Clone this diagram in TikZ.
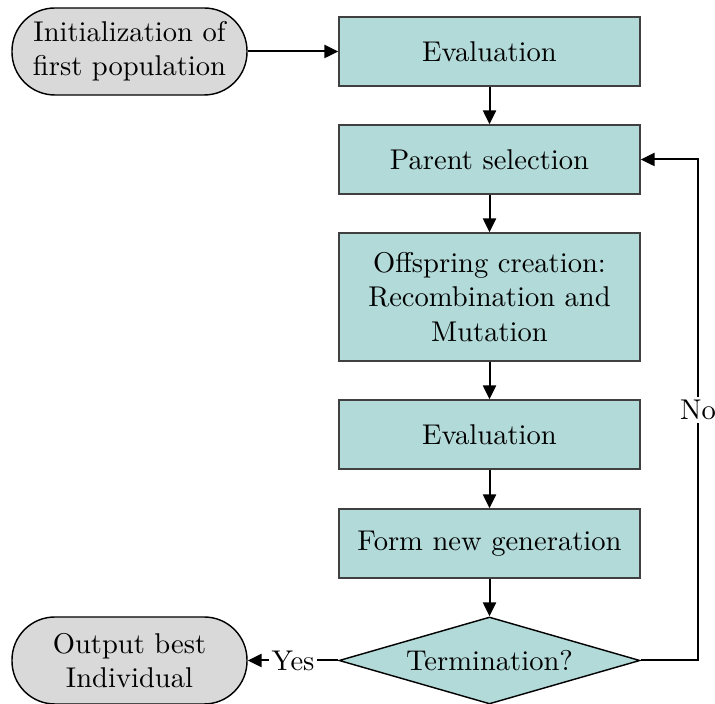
\documentclass[tikz,border=0pt]{standalone}
\usetikzlibrary{shapes.geometric,arrows.meta}
\definecolor{boxfill}{HTML}{B2DAD9}
\definecolor{termfill}{HTML}{D9D9D9}
\definecolor{boxline}{HTML}{404040}
\begin{document}
\begin{tikzpicture}[x=0.35pt,y=-0.35pt,
 procbox/.style={draw=boxline, fill=boxfill, line width=0.5pt, minimum width=105.35pt, minimum height=24.15pt, inner sep=0pt, align=center},
 termbox/.style={draw=black, fill=termfill, line width=0.5pt, rounded corners=15pt, minimum width=82.25pt, minimum height=30.45pt, inner sep=0pt, align=center},
 decbox/.style={draw=black, fill=boxfill, line width=0.5pt, shape=diamond, minimum width=105.35pt, minimum height=30.45pt, inner sep=0pt, aspect=3.46},
 flow/.style={line width=0.7pt, -{Triangle[length=4.9pt,width=4.6pt]}},
 lbl/.style={fill=white, inner sep=1pt}]
\useasboundingbox (0,0) rectangle (715,704);
\node[termbox] (init) at (129.5,51.5) {Initialization of\\first population};
\node[procbox] (eval1) at (489.5,51.5) {Evaluation};
\node[procbox] (parent) at (489.5,159.5) {Parent selection};
\node[procbox, minimum height=44.8pt] (offs) at (489.5,297) {Offspring creation:\\Recombination and\\Mutation};
\node[procbox] (eval2) at (489.5,434.5) {Evaluation};
\node[procbox] (form) at (489.5,543.5) {Form new generation};
\node[decbox] (term) at (489.5,660.5) {Termination?};
\node[termbox] (out) at (129.5,660.5) {Output best\\Individual};
\coordinate (loopb) at (698,660.5);
\coordinate (loopt) at (698,159.5);
\draw[flow] (init) -- (eval1);
\draw[flow] (eval1) -- (parent);
\draw[flow] (parent) -- (offs);
\draw[flow] (offs) -- (eval2);
\draw[flow] (eval2) -- (form);
\draw[flow] (form) -- (term);
\draw[flow] (term.east) -- (loopb) -- node[lbl] {No} (loopt) -- (parent.east);
\draw[flow] (term.west) -- node[lbl] {Yes} (out.east);
\end{tikzpicture}
\end{document}
